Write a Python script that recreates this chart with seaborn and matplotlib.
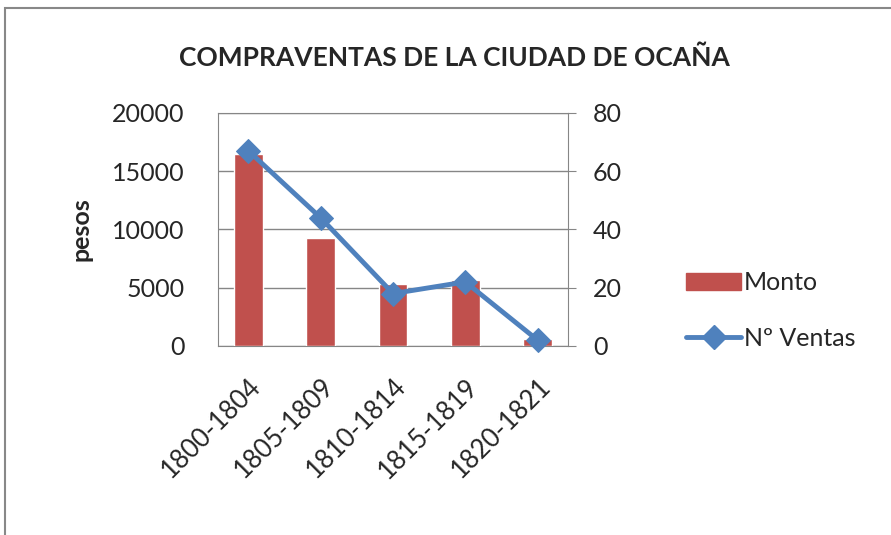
import numpy as np
import pandas as pd
import seaborn as sns
import matplotlib.pyplot as plt
from matplotlib.patches import Rectangle

# Datos del gráfico
periodos = ["1800-1804", "1805-1809", "1810-1814", "1815-1819", "1820-1821"]
monto = [16500, 9250, 5300, 5700, 630]
num_ventas = [67, 44, 18, 22, 2]

df = pd.DataFrame({"Periodo": periodos, "Monto": monto, "Ventas": num_ventas})

sns.set_style("white")
plt.rcParams['font.family'] = ['Lato', 'DejaVu Sans']

color_barra = '#C0504D'
color_linea = '#4F81BD'
color_grid = '#868686'

fig = plt.figure(figsize=(8.91, 5.35), dpi=100)
ax = fig.add_axes([0.2447, 0.3533, 0.3928, 0.4355])

# Barras de monto
sns.barplot(data=df, x="Periodo", y="Monto", color=color_barra, width=0.4,
            saturation=1, ax=ax, zorder=3)
ax.set_ylim(0, 20000)
ax.set_yticks([0, 5000, 10000, 15000, 20000])
ax.yaxis.grid(True, color=color_grid, linewidth=1)
ax.set_axisbelow(True)
ax.set_xlabel("")
ax.set_ylabel("pesos", fontsize=18, fontweight='bold', labelpad=14)
ax.tick_params(axis='y', labelsize=18, length=0, pad=24)
ax.tick_params(axis='x', labelsize=18.5, length=0, pad=20)
plt.setp(ax.get_xticklabels(), rotation=45, ha='right', rotation_mode='anchor')
for s in ['left', 'bottom', 'top']:
    ax.spines[s].set_color(color_grid)
ax.spines['right'].set_visible(False)

# Línea de número de ventas
ax2 = ax.twinx()
sns.lineplot(data=df, x="Periodo", y="Ventas", color=color_linea, linewidth=3.5,
             marker='D', markersize=12, markeredgecolor=color_linea, ax=ax2,
             zorder=5, clip_on=False)
ax2.set_ylim(0, 80)
ax2.set_yticks([0, 20, 40, 60, 80])
ax2.set_ylabel("")
ax2.tick_params(axis='y', labelsize=18, length=6, color=color_grid, pad=12)
for s in ['left', 'bottom', 'top']:
    ax2.spines[s].set_visible(False)
ax2.spines['right'].set_color(color_grid)

# Leyenda
handles = [Rectangle((0, 0), 1, 1, color=color_barra),
           plt.Line2D([0], [0], color=color_linea, linewidth=3.5, marker='D',
                      markersize=12)]
fig.legend(handles, ["Monto", "Nº Ventas"], loc='center left',
           bbox_to_anchor=(0.745, 0.42), frameon=False, fontsize=18,
           handlelength=2.2, handletextpad=0.1, labelspacing=1.3)

fig.suptitle("COMPRAVENTAS DE LA CIUDAD DE OCAÑA", x=0.51, y=0.915,
             fontsize=19, fontweight='bold')

# Marco del gráfico
fig.patches.append(Rectangle((5 / 891, -0.1), 1.1, (535 - 8) / 535 + 0.1,
                             transform=fig.transFigure, fill=False,
                             edgecolor='#888888', linewidth=1.5))

fig.savefig("out.png", dpi=100)
